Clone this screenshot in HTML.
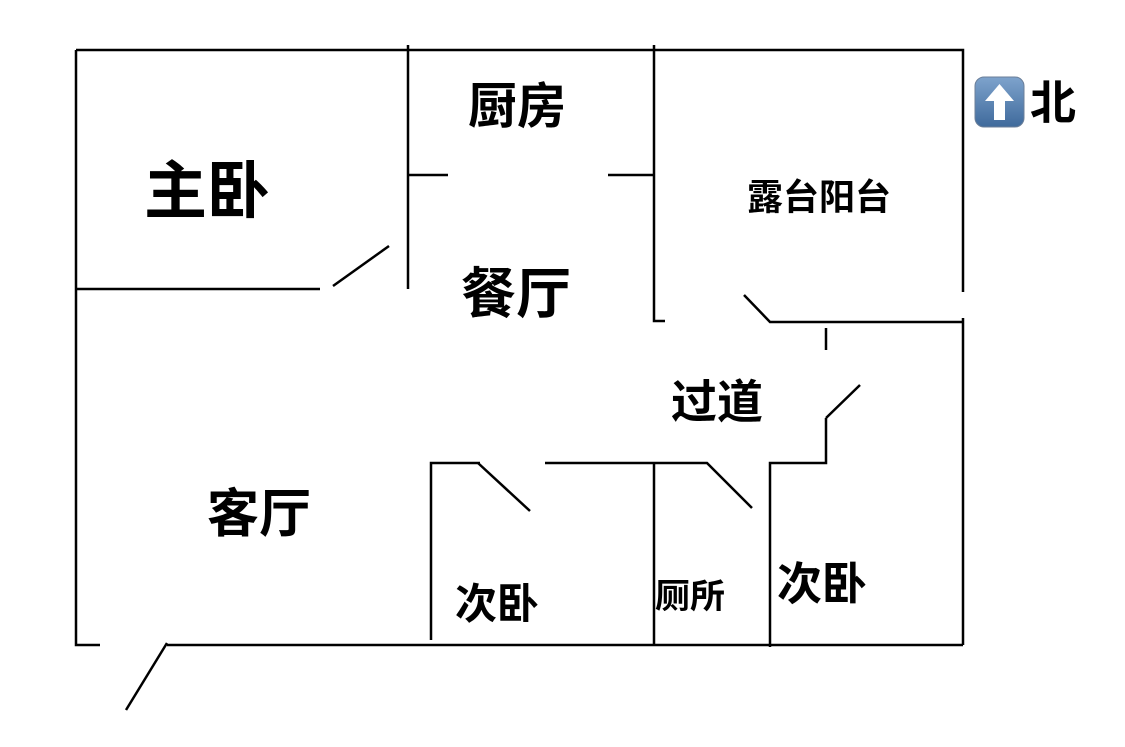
<!DOCTYPE html>
<html><head><meta charset="utf-8"><style>
html,body{margin:0;padding:0;background:#fff;}
svg{display:block;}
text{font-family:"Liberation Sans","Noto Sans CJK SC",sans-serif;font-weight:bold;fill:#000;text-anchor:middle;dominant-baseline:central;}
</style></head><body>
<svg width="1125" height="747" viewBox="0 0 1125 747" xmlns="http://www.w3.org/2000/svg">
<rect width="1125" height="747" fill="#fff"/>
<defs><linearGradient id="g" x1="0" y1="0" x2="0" y2="1"><stop offset="0" stop-color="#7ea3cc"/><stop offset="1" stop-color="#3f6a9c"/></linearGradient></defs>
<g stroke="#000" stroke-width="2.5" fill="none" stroke-linecap="butt">
<path d="M76 50 H963 V292"/>
<path d="M963 318 V645"/>
<path d="M76 50 V645 H100"/>
<path d="M167 645 H963"/>
<path d="M167 643 L126 710"/>
<path d="M408 45 V289"/>
<path d="M408 175 H448"/>
<path d="M608 175 H654"/>
<path d="M654 45 V321 H665"/>
<path d="M76 289 H320"/>
<path d="M333 286 L389 246"/>
<path d="M744 295 L770 322 H963"/>
<path d="M826 328 V350"/>
<path d="M826 418 L860 385"/>
<path d="M826 418 V463 H770 V647"/>
<path d="M431 640 V463 H480"/>
<path d="M478 463 L530 511"/>
<path d="M545 463 H707 L752 508"/>
<path d="M654 463 V645"/>
</g>
<text x="207" y="192" font-size="63">主卧</text>
<text x="517" y="107" font-size="49">厨房</text>
<text x="516" y="294" font-size="55">餐厅</text>
<text x="819" y="197" font-size="36">露台阳台</text>
<text x="717" y="402" font-size="46">过道</text>
<text x="259" y="515" font-size="52">客厅</text>
<text x="497" y="604" font-size="42">次卧</text>
<text x="690" y="597" font-size="34" textLength="70" lengthAdjust="spacingAndGlyphs">厕所</text>
<text x="822" y="584" font-size="45">次卧</text>
<rect x="975" y="77" width="49" height="50" rx="9" fill="url(#g)" stroke="#6b7f99" stroke-width="1"/>
<path d="M999.5 84 L1014 101 H1005 V120 H994 V101 H985 Z" fill="#fff"/>
<text x="1053" y="103" font-size="46">北</text>
</svg>
</body></html>
